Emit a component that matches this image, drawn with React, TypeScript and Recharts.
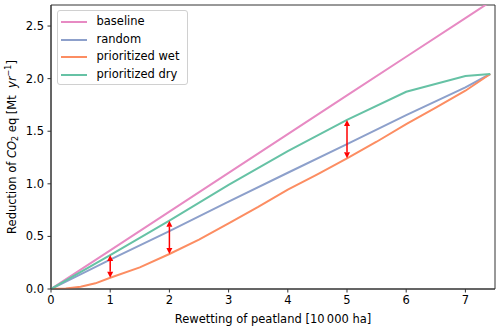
import React from "react";
import { LineChart, Line, XAxis, YAxis, ReferenceLine, ReferenceArea, Legend } from "recharts";

// x positions (10000 ha) for piecewise series
const xSteps = [0, 1, 2, 3, 4, 5, 6, 7, 7.42];
const baselineVals = [0, 0.368, 0.736, 1.104, 1.472, 1.84, 2.208, 2.576, 2.73];
const randomVals = [0, 0.28, 0.55, 0.83, 1.105, 1.378, 1.654, 1.917, 2.044];
const dryVals = [0, 0.323, 0.65, 0.99, 1.31, 1.607, 1.875, 2.025, 2.044];

const xWet = [0, 0.25, 0.5, 0.75, 1, 1.5, 2, 2.5, 3, 3.5, 4, 4.5, 5, 5.5, 6, 6.5, 7, 7.42];
const wetVals = [0, 0.005, 0.022, 0.054, 0.107, 0.205, 0.333, 0.47, 0.625, 0.78, 0.944, 1.09, 1.242, 1.4, 1.568, 1.725, 1.885, 2.044];

const arrowX = [1, 2, 5];
const arrowLow = [0.107, 0.333, 1.242];
const arrowHigh = [0.323, 0.65, 1.607];

const xTicks = [0, 1, 2, 3, 4, 5, 6, 7];
const yTicks = [0, 0.5, 1.0, 1.5, 2.0, 2.5];

const seriesNames = ["baseline", "random", "prioritized wet", "prioritized dry"];
const seriesColors = ["#e78ac3", "#8da0cb", "#fc8d62", "#66c2a5"];

const toPoints = (xs: number[], ys: number[]) => xs.map((x, i) => ({ x, y: ys[i] }));

const baselineData = toPoints(xSteps, baselineVals);
const randomData = toPoints(xSteps, randomVals);
const wetData = toPoints(xWet, wetVals);
const dryData = toPoints(xSteps, dryVals);

const seriesData = [baselineData, randomData, wetData, dryData];

const FONT = "DejaVu Sans, sans-serif";
const FS = 11.5;

const ArrowShape = (props: any) => {
  const { x1, y1, x2, y2 } = props;
  if ([x1, y1, x2, y2].some((v) => v == null || isNaN(v))) return <g />;
  const dx = x2 - x1;
  const dy = y2 - y1;
  const len = Math.sqrt(dx * dx + dy * dy) || 1;
  const ux = dx / len;
  const uy = dy / len;
  const hl = 6;
  const hw = 3;
  const px = -uy;
  const py = ux;
  const b1x = x1 + ux * hl;
  const b1y = y1 + uy * hl;
  const b2x = x2 - ux * hl;
  const b2y = y2 - uy * hl;
  return (
    <g>
      <line x1={b1x} y1={b1y} x2={b2x} y2={b2y} stroke="#ff0000" strokeWidth={1.5} />
      <polygon
        points={`${x1},${y1} ${b1x + px * hw},${b1y + py * hw} ${b1x - px * hw},${b1y - py * hw}`}
        fill="#ff0000"
      />
      <polygon
        points={`${x2},${y2} ${b2x + px * hw},${b2y + py * hw} ${b2x - px * hw},${b2y - py * hw}`}
        fill="#ff0000"
      />
    </g>
  );
};

const YLabel = (props: any) => {
  const vb = props.viewBox || {};
  const cx = (vb.x ?? 0) + 12;
  const cy = (vb.y ?? 0) + (vb.height ?? 0) / 2;
  return (
    <text
      x={cx}
      y={cy}
      transform={`rotate(-90, ${cx}, ${cy})`}
      textAnchor="middle"
      dominantBaseline="central"
      fontFamily={FONT}
      fontSize={FS}
      fill="#000"
    >
      <tspan>Reduction of </tspan>
      <tspan fontStyle="italic">CO</tspan>
      <tspan fontSize={8} dy={2.5}>2</tspan>
      <tspan dy={-2.5}>{" eq [Mt\u00a0\u00a0"}</tspan>
      <tspan fontStyle="italic">yr</tspan>
      <tspan fontSize={8} dy={-4.5}>−1</tspan>
      <tspan dy={4.5}>]</tspan>
    </text>
  );
};

const XLabel = (props: any) => {
  const vb = props.viewBox || {};
  const cx = (vb.x ?? 0) + (vb.width ?? 0) / 2;
  const cy = (vb.y ?? 0) + 30;
  return (
    <text x={cx} y={cy} textAnchor="middle" dominantBaseline="central" fontFamily={FONT} fontSize={FS} fill="#000">
      Rewetting of peatland [10{"\u2009"}000 ha]
    </text>
  );
};

const LegendBox = () => (
  <div
    style={{
      border: "1px solid #d0d0d0",
      borderRadius: 3,
      background: "rgba(255,255,255,0.8)",
      padding: "2px 0 0 3px",
      fontFamily: FONT,
      fontSize: FS,
      color: "#000",
      width: 131,
      height: 75,
      boxSizing: "border-box",
    }}
  >
    {seriesNames.map((n, i) => (
      <div key={n} style={{ display: "flex", alignItems: "center", height: 17.7, lineHeight: "17.7px", whiteSpace: "nowrap" }}>
        <div style={{ width: 26, height: 2, background: seriesColors[i], marginRight: 9.5, flex: "none" }} />
        <span>{n}</span>
      </div>
    ))}
  </div>
);

export default function App() {
  return (
    <div style={{ position: "absolute", left: 0, top: 0, width: 500, height: 330, background: "#fff" }}>
      <LineChart width={500} height={330} margin={{ top: 5, right: 5, bottom: 0, left: 0 }}>
        <XAxis
          dataKey="x"
          type="number"
          domain={[0, 7.5]}
          ticks={xTicks}
          allowDataOverflow
          height={41}
          tickSize={3.5}
          tickMargin={3}
          stroke="#333"
          tick={{ fill: "#000", fontSize: FS, fontFamily: FONT }}
          tickLine={{ stroke: "#333" }}
          label={<XLabel />}
        />
        <YAxis
          type="number"
          domain={[0, 2.7]}
          ticks={yTicks}
          allowDataOverflow
          width={51}
          tickSize={3.5}
          tickMargin={3.5}
          stroke="#333"
          tickFormatter={(v: number) => v.toFixed(1)}
          tick={{ fill: "#000", fontSize: FS, fontFamily: FONT }}
          tickLine={{ stroke: "#333" }}
          label={<YLabel />}
        />
        {seriesData.map((d, i) => (
          <Line
            key={seriesNames[i]}
            data={d}
            dataKey="y"
            name={seriesNames[i]}
            type="linear"
            stroke={seriesColors[i]}
            strokeWidth={2}
            dot={false}
            activeDot={false}
            isAnimationActive={false}
          />
        ))}
        {arrowX.map((x, i) => (
          <ReferenceLine
            key={"arr" + i}
            segment={[
              { x, y: arrowLow[i] },
              { x, y: arrowHigh[i] },
            ]}
            shape={<ArrowShape />}
          />
        ))}
        <ReferenceArea x1={0} x2={7.5} y1={0} y2={2.7} fill="none" fillOpacity={0} stroke="#333" strokeWidth={1} />
        <Legend
          layout="vertical"
          align="center"
          verticalAlign="middle"
          content={() => <LegendBox />}
          wrapperStyle={{ position: "absolute", left: 57, top: 10, width: "auto", height: "auto" }}
        />
      </LineChart>
    </div>
  );
}
